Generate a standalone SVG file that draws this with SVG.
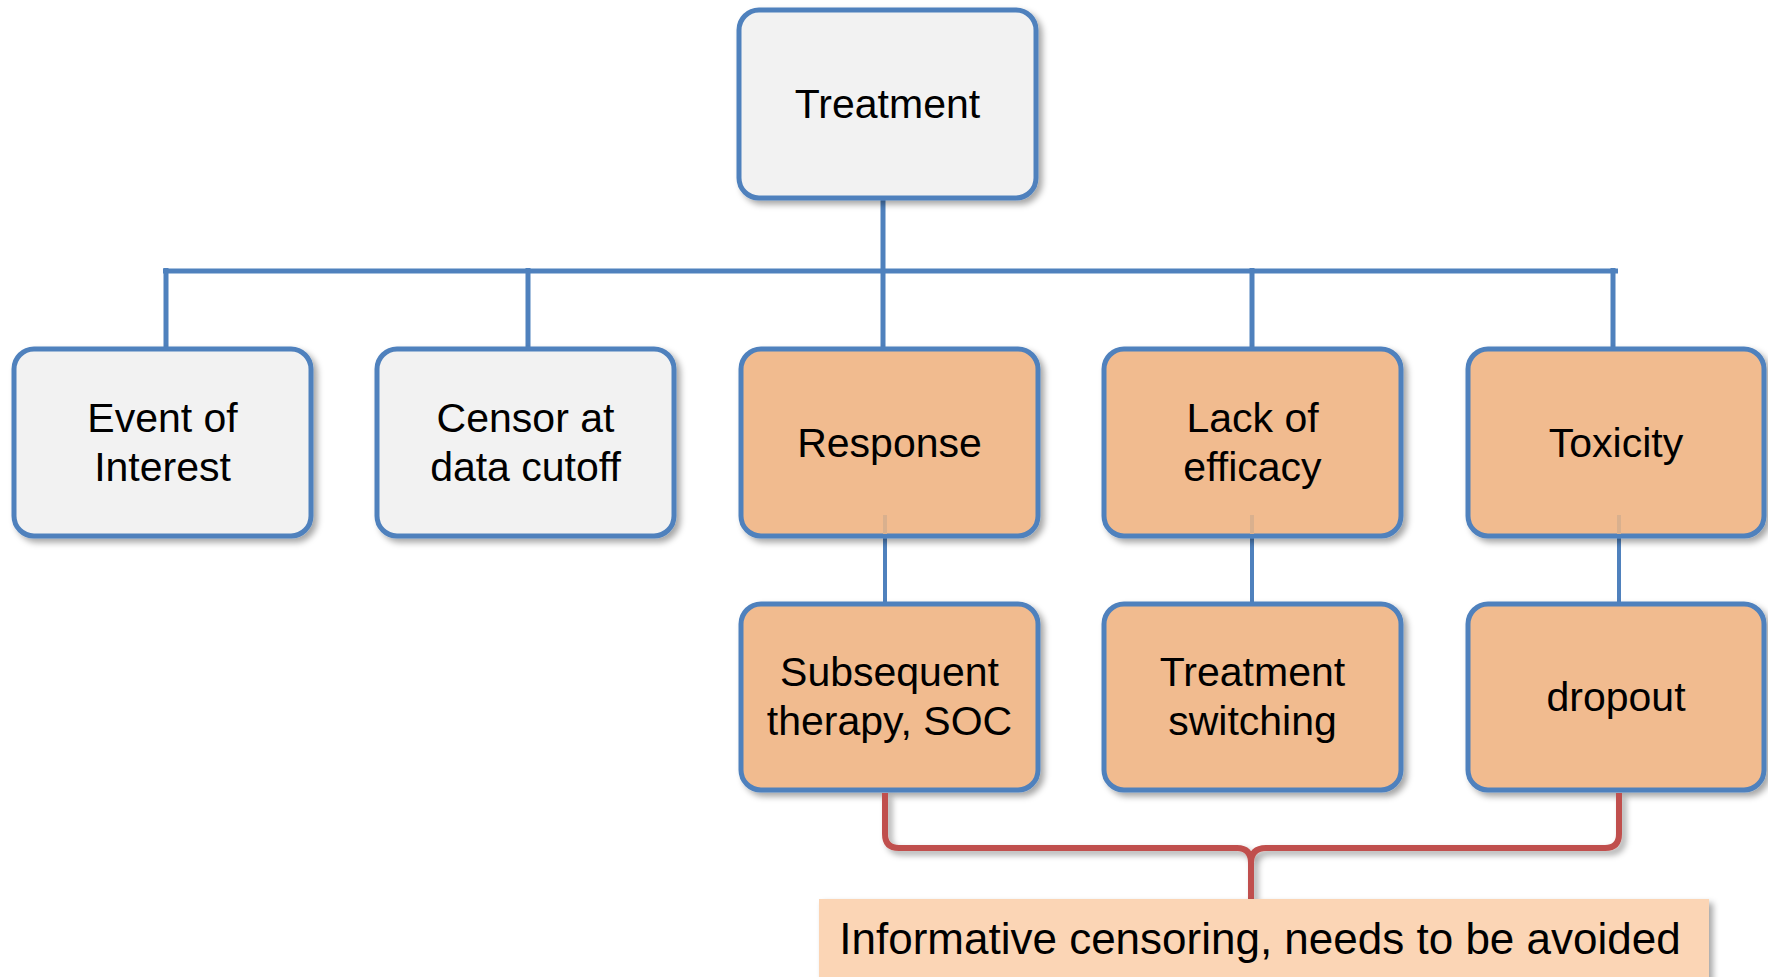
<svg xmlns="http://www.w3.org/2000/svg" width="1768" height="977" viewBox="0 0 1768 977">
<defs>
<filter id="sh" x="-10%" y="-10%" width="125%" height="130%">
<feDropShadow dx="4" dy="4" stdDeviation="3" flood-color="#000" flood-opacity="0.35"/>
</filter>
<style>
.box{stroke:#4F81BD;stroke-width:5;filter:url(#sh)}
.g{fill:#F2F2F2}
.o{fill:#F1BB8F}
.t{font-family:"Liberation Sans",Arial,sans-serif;font-size:41px;fill:#000;text-anchor:middle}
.c{stroke:#4F81BD;fill:none}
</style>
</defs>
<rect width="1768" height="977" fill="#fff"/>
<g id="connectors">
<path class="c" stroke-width="5" d="M883,198 V271 M163,271 H1618 M166,268 V349 M528,268 V349 M883,271 V349 M1252,268 V349 M1613,268 V349"/>
<path class="c" stroke-width="4" d="M885,536 V604 M1252,536 V604 M1619,536 V604"/>
</g>
<g id="n-treatment"><rect class="box g" x="739" y="10" width="297" height="188" rx="20"/><text class="t" x="887.5" y="118">Treatment</text></g>
<g id="n-event"><rect class="box g" x="14" y="349" width="297" height="187" rx="20"/><text class="t" x="162.5" y="432">Event of</text><text class="t" x="162.5" y="481">Interest</text></g>
<g id="n-censor"><rect class="box g" x="377" y="349" width="297" height="187" rx="20"/><text class="t" x="525.5" y="432">Censor at</text><text class="t" x="525.5" y="481">data cutoff</text></g>
<g id="n-response"><rect class="box o" x="741" y="349" width="297" height="187" rx="20"/><line x1="885" y1="515" x2="885" y2="534" stroke="#d9b08e" stroke-width="4"/><text class="t" x="889.5" y="457">Response</text></g>
<g id="n-lack"><rect class="box o" x="1104" y="349" width="297" height="187" rx="20"/><line x1="1252" y1="515" x2="1252" y2="534" stroke="#d9b08e" stroke-width="4"/><text class="t" x="1252.5" y="432">Lack of</text><text class="t" x="1252.5" y="481">efficacy</text></g>
<g id="n-toxicity"><rect class="box o" x="1468" y="349" width="296" height="187" rx="20"/><line x1="1619" y1="515" x2="1619" y2="534" stroke="#d9b08e" stroke-width="4"/><text class="t" x="1616" y="457">Toxicity</text></g>
<g id="n-subsequent"><rect class="box o" x="741" y="604" width="297" height="186" rx="20"/><text class="t" x="889.5" y="686">Subsequent</text><text class="t" x="889.5" y="735">therapy, SOC</text></g>
<g id="n-switching"><rect class="box o" x="1104" y="604" width="297" height="186" rx="20"/><text class="t" x="1252.5" y="686">Treatment</text><text class="t" x="1252.5" y="735">switching</text></g>
<g id="n-dropout"><rect class="box o" x="1468" y="604" width="296" height="186" rx="20"/><text class="t" x="1616" y="711">dropout</text></g>
<g id="bracket">
<path d="M885,793 V834 Q885,848 899,848 H1237 Q1251,848 1251,863 V899 M1251,863 Q1251,848 1266,848 H1605 Q1619,848 1619,834 V793" fill="none" stroke="#C0504D" stroke-width="6" stroke-linejoin="round" filter="url(#sh)"/>
</g>
<g id="n-note">
<rect x="819" y="899" width="890" height="90" fill="#FBD5B5" filter="url(#sh)"/>
<text x="1260" y="954" font-family="'Liberation Sans',Arial,sans-serif" font-size="44" text-anchor="middle" fill="#000">Informative censoring, needs to be avoided</text>
</g>
</svg>
